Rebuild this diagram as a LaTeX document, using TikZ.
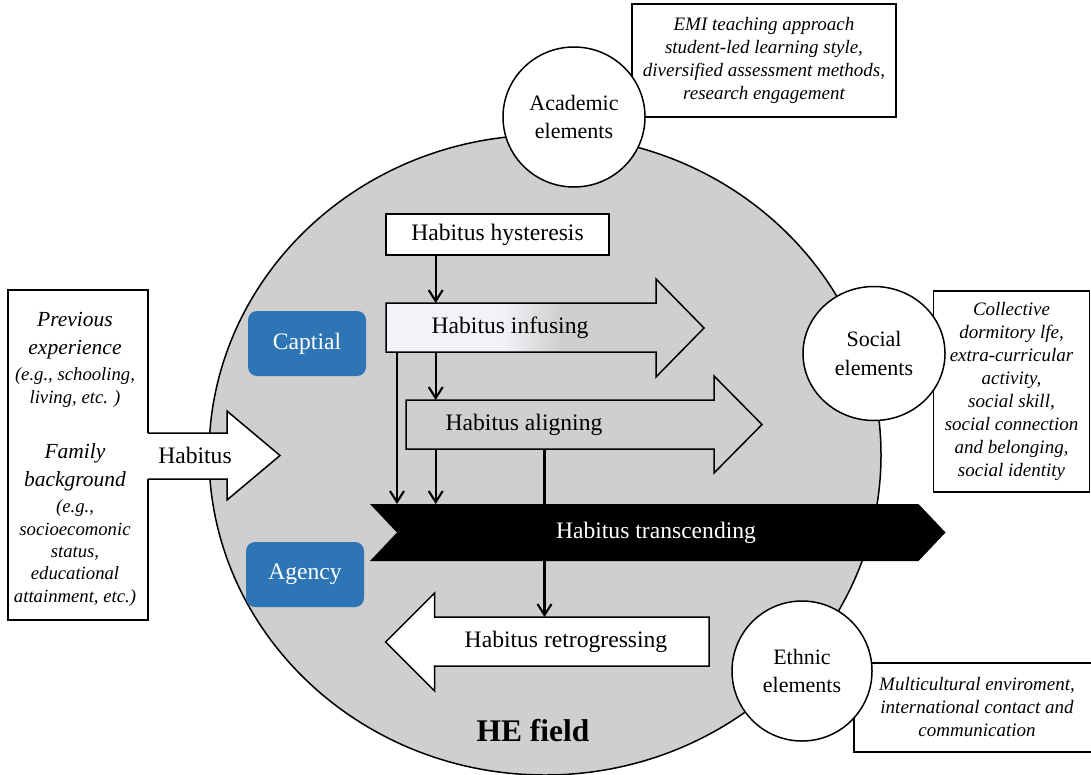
\documentclass[tikz,border=0pt]{standalone}
\usepackage{fontspec}
\setmainfont{Liberation Serif}
\usetikzlibrary{arrows.meta,shapes.geometric}
\definecolor{heGray}{RGB}{208,206,207}
\definecolor{capBlue}{RGB}{46,117,182}
\definecolor{paleW}{RGB}{242,243,248}
% pale on the left, fading into the field grey towards the head
\pgfdeclarehorizontalshading{infuseshade}{100bp}{color(0bp)=(paleW); color(43bp)=(paleW); color(52.5bp)=(heGray); color(100bp)=(heGray)}
\begin{document}
\begin{tikzpicture}[x=1pt,y=-1pt,
  outline/.style={draw=black,line width=1.5pt},
  body/.style={rectangle,inner sep=0pt,outer sep=0pt,draw=none},
  maintxt/.style={inner sep=0pt,font=\fontsize{23.6}{28}\selectfont},
  roundlbl/.style={ellipse,draw=black,line width=1.5pt,fill=white,inner sep=0pt,align=center,font=\fontsize{22}{28.5}\selectfont},
  descbox/.style={rectangle,draw=black,line width=1.5pt,fill=white,inner sep=0pt,align=center,font=\itshape\fontsize{19}{23}\selectfont},
  bluebox/.style={rectangle,rounded corners=9pt,fill=capBlue,text=white,minimum width=118pt,minimum height=65pt,inner sep=0pt,font=\fontsize{23.6}{28}\selectfont},
  headtxt/.style={inner sep=0pt,align=center,font=\itshape\fontsize{21.5}{28}\selectfont},
  egtxt/.style={inner sep=0pt,align=center,font=\itshape\fontsize{18.7}{22.3}\selectfont},
  conn/.style={line width=2.1pt,-{Straight Barb[length=11pt,width=14pt]}},
]
\useasboundingbox (0,0) rectangle (1091,774);

% background sources of habitus
\node[descbox,minimum width=140pt,minimum height=330pt] (prev) at (78,455) {};
\node[headtxt] (prevH) at (75,336) {Previous\\experience};
\node[egtxt] (prevE) at (75,387.5) {(e.g., schooling,\\living, etc. )};
\node[headtxt] (famH) at (75,467) {Family\\background};
\node[egtxt] (famE) at (75,553) {(e.g.,\\socioecomonic\\status,\\educational\\attainment, etc.)};

% the higher-education field
\node[ellipse,draw=black,line width=1.5pt,fill=heGray,minimum width=672pt,minimum height=640pt,inner sep=0pt] (field) at (545,455) {};

% habitus entering the field
\fill[white] (146,433) -- (227,433) -- (227,411) -- (280,455.5) -- (227,500) -- (227,479) -- (146,479) -- cycle;
\draw[outline] (148,433) -- (227,433) -- (227,411) -- (280,455.5) -- (227,500) -- (227,479) -- (148,479);
\node[maintxt] (hab) at (195,455.5) {Habitus};

% element descriptions
\node[descbox,minimum width=264pt,minimum height=113pt] (emi) at (764,60.5) {EMI teaching approach\\student-led learning style,\\diversified assessment methods,\\research engagement};
\node[descbox,minimum width=156pt,minimum height=201pt] (soc) at (1011.5,391.5) {Collective\\dormitory lfe,\\extra-curricular\\activity,\\social skill,\\social connection\\and belonging,\\social identity};
\node[descbox,minimum width=246pt,minimum height=89pt] (eth) at (977,707.5) {Multicultural enviroment,\\international contact and\\communication};

% elements of the field
\node[roundlbl,minimum width=142pt,minimum height=140pt] (acad) at (574,117) {Academic\\elements};
\node[roundlbl,minimum width=142pt,minimum height=134pt] (socc) at (874,353.5) {Social\\elements};
\node[roundlbl,minimum width=140pt,minimum height=140pt] (ethc) at (802,671) {Ethnic\\elements};

% hysteresis
\node[rectangle,outline,fill=white,minimum width=223pt,minimum height=41pt,inner sep=0pt,font=\fontsize{23.6}{28}\selectfont] (hyst) at (497.5,234.5) {Habitus hysteresis};

% infusing
\shadedraw[shading=infuseshade,line width=1.5pt] (386,303) -- (656,303) -- (656,279) -- (704,328) -- (656,377) -- (656,352) -- (386,352) -- cycle;
\node[body,minimum width=270pt,minimum height=49pt] (infB) at (521,327.5) {};
\node[maintxt] (infT) at (510,327.5) {Habitus infusing};

% aligning
\filldraw[outline,fill=heGray] (406,400) -- (714,400) -- (714,376) -- (762,424.5) -- (714,473) -- (714,449) -- (406,449) -- cycle;
\node[body,minimum width=308pt,minimum height=49pt] (alB) at (560,424.5) {};
\node[maintxt] (alT) at (524,424.5) {Habitus aligning};

% capital and agency
\node[bluebox] (cap) at (307,343.5) {Captial};
\node[bluebox] (agy) at (305,574.5) {Agency};

% retrogressing
\filldraw[outline,fill=white] (709,617) -- (434.6,617) -- (434.6,593) -- (385.6,642) -- (434.6,691) -- (434.6,666) -- (709,666) -- cycle;
\node[body,minimum width=274.4pt,minimum height=49pt] (reB) at (571.8,641.5) {};
\node[maintxt] (reT) at (566,641.5) {Habitus retrogressing};

% x positions of the vertical links
\coordinate (xa) at (397,0);
\coordinate (xb) at (435.7,0);
\coordinate (xc) at (544.5,0);

% aligning falls back behind the transcending band
\draw[conn] (alB.south -| xc) -- (reB.north -| xc);

% transcending
\node[body,minimum width=548.5pt,minimum height=57pt] (trB) at (644.25,532.5) {};
\fill[black] (370,504) -- (918.5,504) -- (945.5,532.5) -- (918.5,561) -- (370,561) -- (397,532.5) -- cycle;
\node[maintxt,text=white] (trT) at (656,532.5) {Habitus transcending};

% links between the stages
\draw[conn] (hyst.south -| xb) -- (infB.north -| xb);
\draw[conn] (infB.south -| xb) -- (alB.north -| xb);
\draw[conn] (infB.south -| xa) -- (trB.north -| xa);
\draw[conn] (alB.south -| xb) -- (trB.north -| xb);

\node[inner sep=0pt,font=\bfseries\fontsize{31.5}{36}\selectfont] (he) at (533,731) {HE field};
\end{tikzpicture}
\end{document}
